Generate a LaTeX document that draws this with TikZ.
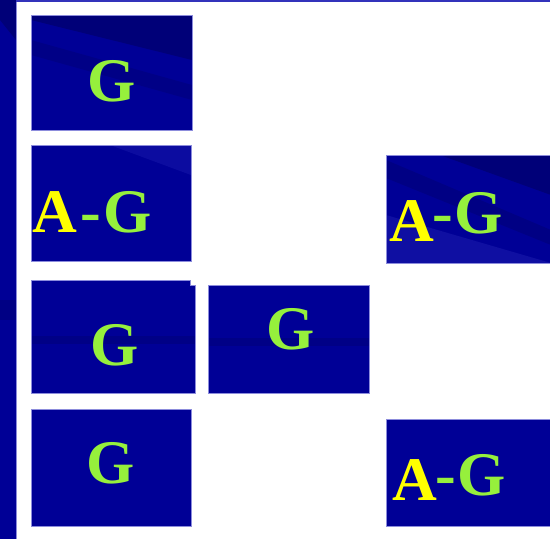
\documentclass[tikz,border=0pt]{standalone}
\usepackage{fontspec}
\setmainfont{Liberation Serif}
\definecolor{boxblue}{RGB}{0,0,150}
\definecolor{darkblue}{RGB}{0,0,120}
\definecolor{lightstreak}{RGB}{25,25,170}
\definecolor{edge}{RGB}{140,140,220}
\definecolor{toprule}{RGB}{51,51,187}
\definecolor{gletter}{RGB}{150,240,60}
\definecolor{aletter}{RGB}{255,255,0}
\begin{document}
\begin{tikzpicture}[x=1pt,y=-1pt,
  card/.style={draw=edge,line width=0.8pt,fill=boxblue},
  txt/.style={anchor=base west,inner sep=0pt,font=\bfseries\fontsize{62}{62}\selectfont},
  gtxt/.style={txt,text=gletter},
  atxt/.style={txt,text=aletter}]
\useasboundingbox (0,0) rectangle (550,539);
% left bar and top rule
\fill[boxblue] (0,0) rectangle (16,539);
\fill[darkblue] (0,0) -- (16,0) -- (16,40) -- (0,20) -- cycle;
\fill[darkblue,opacity=0.6] (0,300) rectangle (16,320);
\fill[edge] (16,0) rectangle (16.8,539);
\fill[toprule] (16,0) rectangle (550,2);
% boxes
\draw[card] (31,15) rectangle (192,130);
\begin{scope}
  \clip (31,15) rectangle (192,130);
  \fill[darkblue] (31,15) -- (192,15) -- (192,60) -- (31,20) -- cycle;
  \fill[darkblue,opacity=0.5] (31,40) -- (192,85) -- (192,100) -- (31,55) -- cycle;
\end{scope}
\draw[edge,line width=0.8pt] (31,15) rectangle (192,130);
\draw[card] (31,145) rectangle (191,261);
\begin{scope}
  \clip (31,145) rectangle (191,261);
  \fill[lightstreak,opacity=0.5] (110,145) -- (191,145) -- (191,175) -- cycle;
\end{scope}
\draw[edge,line width=0.8pt] (31,145) rectangle (191,261);
\draw[card] (386,155) rectangle (551,263);
\begin{scope}
  \clip (386,155) rectangle (551,263);
  \fill[darkblue] (440,155) -- (551,155) -- (551,195) -- cycle;
  \fill[darkblue,opacity=0.6] (386,160) -- (551,230) -- (551,245) -- (386,178) -- cycle;
  \fill[lightstreak,opacity=0.6] (386,215) -- (551,263) -- (386,263) -- cycle;
\end{scope}
\draw[edge,line width=0.8pt] (386,155) rectangle (551,263);
\draw[card] (31,280) -- (190,280) -- (190,285) -- (195,285) -- (195,393) -- (31,393) -- cycle;
\fill[darkblue,opacity=0.5] (31.5,336) rectangle (194.5,344);
\draw[card] (208,285) rectangle (369,393);
\fill[darkblue,opacity=0.5] (208.5,338) rectangle (368.5,346);
\draw[card] (31,409) rectangle (191,526);
\draw[card] (386,419) rectangle (551,526);
% letters
\node[gtxt] (g1) at (87,101) {G};
\node[atxt] (a2) at (32,232) {A};
\node[gtxt] (g2) at (80,232) {-\kern3pt G};
\node[atxt] (a3) at (389,241) {A};
\node[gtxt] (g3) at (432,233) {-\kern2pt G};
\node[gtxt] (g4) at (90,365) {G};
\node[gtxt] (g5) at (266,349) {G};
\node[gtxt] (g6) at (86,483) {G};
\node[atxt] (a7) at (392,500) {A};
\node[gtxt] (g7) at (435,495) {-\kern2pt G};
\end{tikzpicture}
\end{document}
